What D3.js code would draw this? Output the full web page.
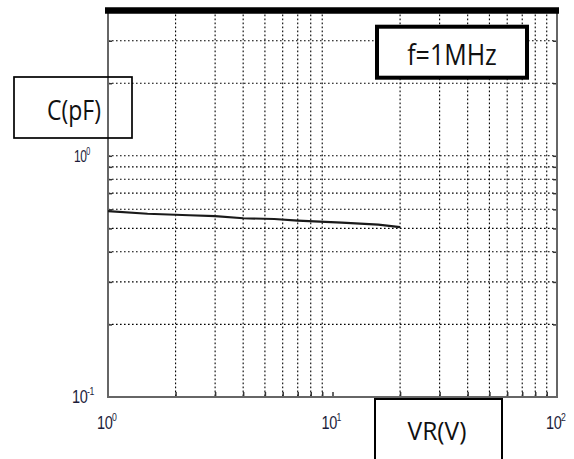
<!DOCTYPE html>
<html>
<head>
<meta charset="utf-8">
<script src="https://cdn.jsdelivr.net/npm/d3@7"></script>
<style>
  body { margin: 0; background: #fff; }
  svg { display: block; }
</style>
</head>
<body>
<svg id="chart"></svg>
<script>
// capacitance vs reverse voltage
const voltage = [1, 1.5, 2.3, 3, 4, 5.5, 7, 11, 16, 20];
const capacitance = [0.59, 0.575, 0.567, 0.562, 0.551, 0.547, 0.539, 0.528, 0.518, 0.506];

const xGrid = [2, 3, 4, 5, 6, 7, 8, 9, 20, 30, 40, 50, 60, 70, 80, 90];
const yGrid = [0.2, 0.3, 0.4, 0.5, 0.6, 0.7, 0.8, 0.9, 2, 3];
const xTickLabels = [{ v: 1, exp: "0" }, { v: 10, exp: "1" }, { v: 100, exp: "2" }];
const yTickLabels = [{ v: 1, exp: "0" }, { v: 0.1, exp: "-1" }];

const W = 574, H = 459;
const margin = { top: 10.6, right: 17, bottom: 62, left: 108 },
  width = W - margin.left - margin.right,
  height = H - margin.top - margin.bottom;

const svg = d3.select("#chart").attr("width", W).attr("height", H);
const g = svg.append("g").attr("transform", `translate(${margin.left}, ${margin.top})`);

const x = d3.scaleLog().domain([1, 100]).range([0, width]);
const y = d3.scaleLog().domain([0.1, 4]).range([height, 0]);

// dotted grid
g.append("g").selectAll("line").data(xGrid).enter().append("line")
  .attr("x1", d => x(d)).attr("x2", d => x(d))
  .attr("y1", 0).attr("y2", height)
  .attr("stroke", "#000").attr("stroke-width", 1.1)
  .attr("stroke-dasharray", "1.6,2.4");
g.append("g").selectAll("line").data(yGrid.concat([1])).enter().append("line")
  .attr("x1", 0).attr("x2", width)
  .attr("y1", d => y(d)).attr("y2", d => y(d))
  .attr("stroke", "#000").attr("stroke-width", 1.1)
  .attr("stroke-dasharray", "1.6,2.4");

// inward ticks
g.append("g").attr("transform", `translate(0, ${height})`)
  .call(d3.axisBottom(x).tickValues(xGrid.concat([10])).tickSize(-5).tickFormat(""))
  .call(s => s.select(".domain").remove())
  .selectAll("line").attr("stroke", "#333").attr("stroke-width", 1.5);
g.append("g").attr("transform", `translate(${width}, 0)`)
  .call(d3.axisRight(y).tickValues(yGrid.concat([1])).tickSize(-4).tickFormat(""))
  .call(s => s.select(".domain").remove())
  .selectAll("line").attr("stroke", "#333").attr("stroke-width", 1.5);
g.append("g")
  .call(d3.axisLeft(y).tickValues(yGrid.concat([1])).tickSize(-4).tickFormat(""))
  .call(s => s.select(".domain").remove())
  .selectAll("line").attr("stroke", "#333").attr("stroke-width", 1.5);

// frame
g.append("path")
  .attr("d", `M0,0V${height}H${width}V0`)
  .attr("fill", "none").attr("stroke", "#666").attr("stroke-width", 2);
g.append("line")
  .attr("x1", -3).attr("x2", width + 2).attr("y1", 0).attr("y2", 0)
  .attr("stroke", "#000").attr("stroke-width", 6.5);

// curve
const line = d3.line().x((d, i) => x(voltage[i])).y(d => y(d));
g.append("path").datum(capacitance)
  .attr("d", line)
  .attr("fill", "none").attr("stroke", "#1a1a1a").attr("stroke-width", 2.2);

// text helper: the picture is stretched vertically, so scale y
function stretched(px, py, sy) {
  return svg.append("text")
    .attr("transform", `translate(${px}, ${py}) scale(1, ${sy})`);
}

// tick labels 10^n
const labelColor = "#1c1c3a";
function power(px, py, size, sy, exp) {
  const t = stretched(px, py, sy)
    .attr("font-family", "Liberation Sans, Arial, sans-serif")
    .attr("font-size", size).attr("fill", labelColor)
    .attr("letter-spacing", -0.3);
  t.append("tspan").text("10");
  t.append("tspan").attr("dx", -0.5).attr("dy", -size * 0.42).attr("font-size", size * 0.6).text(exp);
}
xTickLabels.forEach(d => power(margin.left + x(d.v) - 11, 429, 14.5, 1.3, d.exp));
yTickLabels.forEach(d => {
  if (d.exp === "0") power(74, margin.top + y(d.v) + 6, 12, 1.4, d.exp);
  else power(72, margin.top + y(d.v) + 6, 14.5, 1.3, d.exp);
});

// boxed labels
svg.append("rect").attr("x", 14).attr("y", 77).attr("width", 118).attr("height", 61)
  .attr("fill", "none").attr("stroke", "#000").attr("stroke-width", 1.7);
stretched(101, 119.5, 1.2).attr("text-anchor", "end")
  .attr("font-family", "Open Sans, sans-serif").attr("font-size", 23).attr("fill", "#111")
  .text("C(pF)");

svg.append("rect").attr("x", 377).attr("y", 26.7).attr("width", 150).attr("height", 51)
  .attr("fill", "#fff").attr("stroke", "#000").attr("stroke-width", 4);
stretched(452, 64.5, 1.2).attr("text-anchor", "middle")
  .attr("font-family", "Open Sans, sans-serif").attr("font-size", 25).attr("fill", "#111")
  .text("f=1MHz");

svg.append("rect").attr("x", 375).attr("y", 399).attr("width", 127).attr("height", 70)
  .attr("fill", "#fff").attr("stroke", "#000").attr("stroke-width", 2);
stretched(437, 440, 1.05).attr("text-anchor", "middle")
  .attr("font-family", "Open Sans, sans-serif").attr("font-size", 24.5).attr("fill", "#111")
  .text("VR(V)");
</script>
</body>
</html>
